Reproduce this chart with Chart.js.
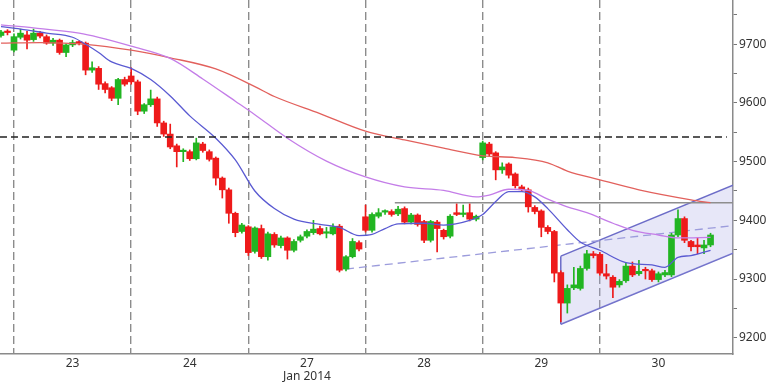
<!DOCTYPE html>
<html><head><meta charset="utf-8">
<script src="https://cdn.jsdelivr.net/npm/chart.js@4.4.1/dist/chart.umd.min.js"></script>
<style>html,body{margin:0;padding:0;background:#fff;overflow:hidden}</style>
</head><body>
<canvas id="c" width="768" height="384"></canvas>
<script>
// ---- data ----
const dayLabels = ['23', '24', '27', '28', '29', '30'];
const monthLabel = 'Jan 2014';
const monthLabelDay = '27';
const barsPerDay = 18;
const leadBars = 2; // bars of Jan 22 visible before the first full day

const opens = [9715,9722,
 9690,9712,9716,9708,9719,9713,9702,9707,9686,9699,9703,9702,9656,9659,9633,9626,9608,9640,
 9646,9636,9586,9597,9607,9566,9547,9527,9517,9517,9505,9530,9517,9506,9472,9452,9412,9381,
 9389,9347,9386,9338,9376,9357,9370,9349,9366,9373,9379,9386,9378,9377,9390,9317,9338,9362,
 9406,9383,9407,9414,9415,9411,9420,9397,9409,9398,9366,9397,9383,9373,9413,9410,9413,9402,
 9507,9530,9515,9486,9496,9479,9457,9452,9422,9416,9388,9381,9311,9259,9285,9284,9318,9343,
 9342,9309,9303,9290,9297,9322,9309,9315,9314,9299,9307,9307,9375,9403,9364,9358,9353,9358];
const highs = [9724,9725,
 9718,9726,9722,9726,9722,9716,9710,9709,9701,9707,9706,9704,9670,9662,9636,9628,9642,9644,
 9660,9639,9599,9622,9610,9569,9564,9530,9522,9520,9540,9533,9520,9508,9474,9455,9414,9395,
 9391,9389,9392,9380,9379,9373,9372,9367,9375,9384,9400,9390,9388,9394,9393,9340,9369,9365,
 9426,9413,9420,9418,9418,9424,9423,9412,9411,9400,9400,9400,9385,9410,9428,9426,9428,9409,
 9535,9533,9517,9498,9498,9481,9460,9455,9425,9418,9391,9383,9314,9290,9320,9322,9349,9347,
 9345,9325,9306,9299,9327,9329,9332,9320,9317,9312,9315,9378,9418,9406,9366,9370,9366,9378];
const lows = [9712,9716,
 9687,9709,9692,9705,9711,9700,9698,9683,9679,9696,9699,9648,9652,9623,9617,9604,9597,9629,
 9632,9580,9582,9594,9560,9543,9522,9491,9500,9502,9503,9516,9501,9460,9438,9395,9372,9378,
 9340,9344,9335,9332,9354,9353,9334,9346,9363,9370,9376,9375,9370,9375,9312,9314,9336,9348,
 9380,9380,9404,9410,9407,9408,9394,9394,9390,9362,9363,9346,9368,9370,9408,9406,9399,9399,
 9503,9510,9469,9480,9472,9455,9449,9414,9411,9372,9377,9295,9227,9242,9282,9281,9315,9336,
 9306,9300,9268,9286,9294,9304,9306,9300,9296,9295,9304,9304,9372,9362,9348,9343,9343,9355];
const closes = [9721,9720,
 9713,9719,9707,9719,9714,9702,9707,9686,9699,9703,9702,9656,9660,9632,9623,9608,9640,9632,
 9636,9586,9597,9607,9566,9547,9525,9517,9519,9505,9532,9519,9504,9472,9452,9412,9379,9392,
 9345,9387,9338,9377,9358,9370,9349,9364,9372,9381,9385,9377,9379,9389,9315,9338,9364,9351,
 9383,9410,9413,9415,9410,9419,9397,9409,9393,9366,9398,9386,9372,9407,9410,9411,9402,9407,
 9532,9513,9486,9491,9477,9459,9452,9423,9415,9388,9381,9310,9259,9284,9290,9318,9343,9340,
 9310,9305,9286,9296,9322,9307,9313,9314,9299,9309,9311,9375,9403,9366,9355,9355,9358,9375];

// moving averages: [bar index from first bar of day 23, value]
const maFast = [[-2,9730],[1,9726],[5,9719],[9,9712],[11,9700],[13,9686],[15,9670],[18,9659],[21,9640],
 [24,9612],[27,9578],[31,9540],[34,9503],[37,9450],[40,9420],[43,9402],[47,9393],[50,9388],[53,9374],
 [55,9376],[57,9386],[59,9394],[63,9395],[66,9392],[70,9400],[72,9410],[74,9432],[76,9449],[78,9449],
 [80,9440],[82,9420],[85,9384],[87,9363],[90,9349],[94,9328],[98,9324],[100,9320],[102,9337],[104,9340],[107,9349]];
const maMid = [[-2,9733],[3,9728],[10,9719],[13,9712],[18,9697],[24,9676],[29,9641],[34,9603],[37,9580],
 [42,9540],[48,9501],[54,9474],[60,9457],[66,9451],[71,9440],[73,9443],[76,9453],[79,9451],[82,9436],
 [85,9423],[88,9413],[92,9395],[95,9383],[99,9375],[102,9370],[107,9371]];
const maSlow = [[-2,9702],[4,9703],[11,9700],[18,9690],[24,9677],[31,9658],[37,9628],[40,9611],[47,9582],
 [54,9552],[60,9537],[66,9523],[72,9510],[77,9507],[82,9498],[85,9484],[90,9469],[96,9452],[104,9435],[107,9430]];

const resistanceLevel = 9542;          // black dashed
const rangeTop = 9430;                 // grey line
const rangeTopFrom = 58.5;
const supportTrend = [[51, 9317], [110.45, 9391]];   // dashed lavender
const channelUpper = [[84, 9339], [110.45, 9460]];
const channelLower = [[84, 9223], [110.45, 9344]];
const yTicks = [9200, 9250, 9300, 9350, 9400, 9450, 9500, 9550, 9600, 9650, 9700, 9750];

// ---- build ----
const X_MIN = -leadBars - 0.15, X_MAX = 110.45;
const GREEN = '#22b522', RED = '#ee1a1a';
const idx = k => k - leadBars;
const isUp = k => closes[k] >= opens[k];
const pts = arr => arr.map(p => ({x: p[0], y: p[1]}));
const bodyData = opens.map((o, k) => ({x: idx(k), y: [o, closes[k]]}));
const wickData = opens.map((o, k) => ({x: idx(k), y: [lows[k], highs[k]]}));
const candleColor = c => isUp(c.dataIndex) ? GREEN : RED;

const xTicks = [];
dayLabels.forEach((d, n) => { xTicks.push(n * barsPerDay); xTicks.push(n * barsPerDay + barsPerDay / 2); });
const xLabel = v => {
  const n = (v - barsPerDay / 2) / barsPerDay;
  if (!Number.isInteger(n) || n < 0 || n >= dayLabels.length) return '';
  return dayLabels[n] === monthLabelDay ? [dayLabels[n], monthLabel] : dayLabels[n];
};
const isDayStart = v => v >= 0 && v % barsPerDay === 0;

const lineBase = {type: 'line', pointRadius: 0, pointHoverRadius: 0, fill: false};
const font = {family: 'Noto Sans', size: 12, lineHeight: 1.1};

new Chart(document.getElementById('c'), {
  type: 'bar',
  data: {
    datasets: [
      Object.assign({}, lineBase, {data: pts(maFast), borderColor: '#5a5ad2', borderWidth: 1.3, cubicInterpolationMode: 'monotone', order: 0}),
      Object.assign({}, lineBase, {data: pts(maMid), borderColor: '#c47de8', borderWidth: 1.3, cubicInterpolationMode: 'monotone', order: 0}),
      Object.assign({}, lineBase, {data: pts(maSlow), borderColor: '#e2605c', borderWidth: 1.3, cubicInterpolationMode: 'monotone', order: 0}),
      Object.assign({}, lineBase, {data: [{x: X_MIN, y: resistanceLevel}, {x: 109.5, y: resistanceLevel}], borderColor: '#222', borderWidth: 1.6, borderDash: [7, 4], order: -1}),
      {type: 'bar', data: bodyData, backgroundColor: candleColor, borderWidth: 0, barThickness: 6, grouped: false, minBarLength: 1.5, order: 1},
      {type: 'bar', data: wickData, backgroundColor: candleColor, borderWidth: 0, barThickness: 1, grouped: false, order: 2},
      Object.assign({}, lineBase, {data: [{x: rangeTopFrom, y: rangeTop}, {x: X_MAX, y: rangeTop}], borderColor: '#8e8e8e', borderWidth: 1.6, order: 3}),
      Object.assign({}, lineBase, {data: pts(supportTrend), borderColor: '#9c9cdc', borderWidth: 1.3, borderDash: [8, 5], order: 3}),
      Object.assign({}, lineBase, {data: pts(channelUpper), borderColor: '#6c6cc8', borderWidth: 1.6, fill: '+1', backgroundColor: 'rgba(165,165,228,0.27)', order: 4}),
      Object.assign({}, lineBase, {data: pts(channelLower), borderColor: '#6c6cc8', borderWidth: 1.6, order: 4}),
      Object.assign({}, lineBase, {data: [{x: channelLower[0][0], y: channelLower[0][1]}, {x: channelUpper[0][0], y: channelUpper[0][1]}], borderColor: '#6c6cc8', borderWidth: 1.6, order: 4})
    ]
  },
  options: {
    responsive: false,
    devicePixelRatio: 1,
    animation: false,
    layout: {padding: 0},
    plugins: {legend: {display: false}, tooltip: {enabled: false}},
    scales: {
      x: {
        type: 'linear', min: X_MIN, max: X_MAX, offset: false,
        afterBuildTicks: s => { s.ticks = xTicks.map(v => ({value: v})); },
        afterFit: s => { s.height = 30; s.paddingLeft = 0; s.paddingRight = 0; },
        ticks: {autoSkip: false, maxRotation: 0, minRotation: 0, padding: 3, color: '#333', font: font, callback: v => xLabel(v)},
        grid: {offset: false, drawTicks: false, lineWidth: 1.4,
               color: c => (c.tick && isDayStart(c.tick.value)) ? '#8c8c8c' : 'rgba(0,0,0,0)'},
        border: {display: true, color: '#8a8a8a', width: 1.5, dash: [8, 4]}
      },
      y: {
        type: 'linear', position: 'right', min: 9172.2, max: 9775.5, beginAtZero: false,
        afterBuildTicks: s => { s.ticks = yTicks.map(v => ({value: v})); },
        afterFit: s => { s.width = 35; s.paddingTop = 0; s.paddingBottom = 0; },
        ticks: {padding: 2, color: '#333', font: font, callback: v => (v % 100 === 0 ? String(v) : '')},
        grid: {drawOnChartArea: false, drawTicks: true, tickLength: 4, color: '#777', tickColor: '#777'},
        border: {display: true, color: '#8a8a8a', width: 1.5}
      }
    }
  }
});
</script>
</body></html>
